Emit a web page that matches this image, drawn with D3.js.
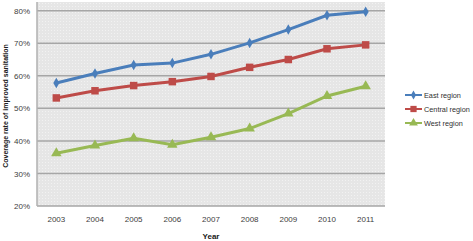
<!DOCTYPE html>
<html lang="en">
<head>
    <meta charset="UTF-8">
    <title>Coverage rate of improved sanitation</title>
    <script src="https://d3js.org/d3.v7.min.js"></script>
    <style>
        body { margin: 0; background: #fff; }
        svg { display: block; font-family: "Liberation Sans", Arial, sans-serif; }
    </style>
</head>
<body>
<svg id="chart"></svg>
<script>
    const years = ["2003", "2004", "2005", "2006", "2007", "2008", "2009", "2010", "2011"];
    const eastRegion = [57.8, 60.7, 63.3, 63.9, 66.6, 70.1, 74.2, 78.6, 79.7];
    const centralRegion = [53.2, 55.4, 57.0, 58.2, 59.8, 62.6, 65.0, 68.3, 69.5];
    const westRegion = [36.2, 38.6, 40.8, 38.8, 41.1, 43.8, 48.4, 53.8, 56.8];
    const yTicks = [20, 30, 40, 50, 60, 70, 80];
    const seriesNames = ["East region", "Central region", "West region"];

    const series = [
        { name: seriesNames[0], values: eastRegion, color: "#4a7ebb", symbol: d3.symbolDiamond, size: 32 },
        { name: seriesNames[1], values: centralRegion, color: "#be4b48", symbol: d3.symbolSquare, size: 56 },
        { name: seriesNames[2], values: westRegion, color: "#98b954", symbol: d3.symbolTriangle, size: 48 }
    ];

    const width = 473, height = 241;
    const plot = { left: 37, right: 385, top: 2, bottom: 206 };

    const svg = d3.select("#chart").attr("width", width).attr("height", height);

    const defs = svg.append("defs");
    const pat = defs.append("pattern").attr("id", "dots")
        .attr("width", 3).attr("height", 3).attr("patternUnits", "userSpaceOnUse");
    pat.append("rect").attr("width", 3).attr("height", 3).attr("fill", "#e6e6e6");
    pat.append("rect").attr("width", 1).attr("height", 1).attr("fill", "#f2f2f2");

    const x = d3.scaleBand().domain(years).range([plot.left, plot.right]);
    const y = d3.scaleLinear().domain([20, 80]).range([plot.bottom, 10.7]);

    svg.append("rect")
        .attr("x", plot.left).attr("y", plot.top)
        .attr("width", plot.right - plot.left).attr("height", plot.bottom - plot.top)
        .attr("fill", "url(#dots)");

    // gridlines
    svg.append("g")
        .selectAll("line")
        .data(yTicks)
        .join("line")
        .attr("x1", plot.left).attr("x2", plot.right)
        .attr("y1", d => y(d)).attr("y2", d => y(d))
        .attr("stroke", "#a6a6a6").attr("stroke-width", 1.5);

    // left axis line
    svg.append("line")
        .attr("x1", plot.left).attr("x2", plot.left)
        .attr("y1", plot.top).attr("y2", plot.bottom)
        .attr("stroke", "#b0b0b0").attr("stroke-width", 1.5);

    const yAxis = svg.append("g")
        .attr("transform", "translate(" + plot.left + ",0)")
        .call(d3.axisLeft(y).tickValues(yTicks).tickSize(0).tickPadding(7).tickFormat(d => d + "%"));
    yAxis.select(".domain").remove();
    yAxis.selectAll("text").attr("font-size", 8).attr("fill", "#404040");

    const xAxis = svg.append("g")
        .attr("transform", "translate(0," + plot.bottom + ")")
        .call(d3.axisBottom(x).tickSize(0).tickPadding(10));
    xAxis.select(".domain").remove();
    xAxis.selectAll("text").attr("font-size", 8).attr("fill", "#404040");

    svg.append("text")
        .attr("x", (plot.left + plot.right) / 2).attr("y", 239)
        .attr("text-anchor", "middle").attr("font-size", 8).attr("font-weight", "bold")
        .attr("fill", "#202020")
        .text("Year");

    svg.append("text")
        .attr("transform", "translate(8," + 106 + ") rotate(-90)")
        .attr("text-anchor", "middle").attr("font-size", 7).attr("font-weight", "bold")
        .attr("fill", "#202020")
        .text("Coverage rate of improved sanitation");

    const line = d3.line()
        .x((d, i) => x(years[i]) + x.bandwidth() / 2)
        .y(d => y(d));

    series.forEach(s => {
        svg.append("path")
            .datum(s.values)
            .attr("fill", "none")
            .attr("stroke", s.color)
            .attr("stroke-width", 3)
            .attr("d", line);
        svg.append("g")
            .selectAll("path")
            .data(s.values)
            .join("path")
            .attr("transform", (d, i) => "translate(" + (x(years[i]) + x.bandwidth() / 2) + "," + y(d) + ")")
            .attr("d", d3.symbol().type(s.symbol).size(s.size))
            .attr("fill", s.color);
    });

    // legend
    const legend = svg.append("g").attr("transform", "translate(405,95)");
    series.forEach((s, i) => {
        const g = legend.append("g").attr("transform", "translate(0," + (i * 14) + ")");
        g.append("line").attr("x1", 0).attr("x2", 17).attr("stroke", s.color).attr("stroke-width", 2);
        g.append("path").attr("transform", "translate(8.5,0)")
            .attr("d", d3.symbol().type(s.symbol).size(s.size * 0.7))
            .attr("fill", s.color);
        g.append("text").attr("x", 19).attr("y", 3)
            .attr("font-size", 7.3).attr("fill", "#303030")
            .text(s.name);
    });
</script>
</body>
</html>
